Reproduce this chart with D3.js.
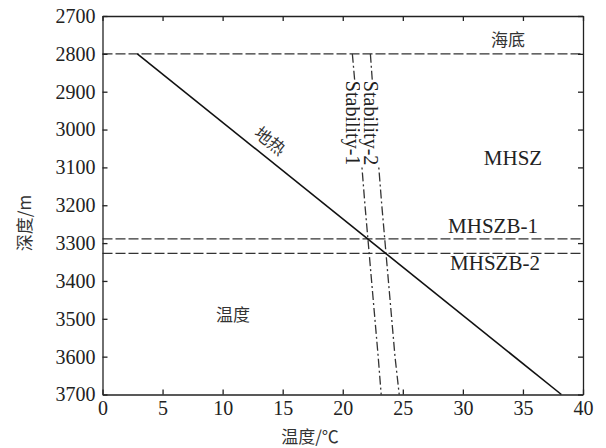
<!DOCTYPE html>
<html>
<head>
<meta charset="utf-8">
<script src="https://cdn.jsdelivr.net/npm/d3@7"></script>
<style>
  html, body { margin: 0; padding: 0; background: #fff; }
  svg { display: block; }
  .tick text { font-family: 'Liberation Serif', 'Times New Roman', serif; }
</style>
</head>
<body>
<svg id="chart" width="606" height="448"></svg>
<script>
// Axis extents and ticks
const tempDomain = [0, 40];
const depthDomain = [2700, 3700];
const tempTicks = [0, 5, 10, 15, 20, 25, 30, 35, 40];
const depthTicks = [2700, 2800, 2900, 3000, 3100, 3200, 3300, 3400, 3500, 3600, 3700];

// Geothermal gradient (temperature °C vs depth m)
const geoTemp = [2.9, 38.2];
const geoDepth = [2800, 3700];

// Hydrate phase-stability curves
const stabDepth = [2800, 3000, 3200, 3400, 3600, 3700];
const stab1Temp = [20.8, 21.35, 21.85, 22.4, 22.95, 23.2];
const stab2Temp = [22.3, 22.75, 23.25, 23.8, 24.35, 24.7];

// Horizontal reference depths: seafloor, stability-zone bases
const refNames = ["海底", "MHSZB-1", "MHSZB-2"];
const refDepths = [2800, 3289, 3327];

const W = 606, H = 448;
const margin = { left: 102.5, right: 23, top: 16, bottom: 53.5 };
const svg = d3.select("#chart");

const x = d3.scaleLinear().domain(tempDomain).range([margin.left, W - margin.right]);
const y = d3.scaleLinear().domain(depthDomain).range([margin.top, H - margin.bottom]);

const serif = "'Liberation Serif', 'Times New Roman', serif";
const cjk = "'Noto Sans CJK SC', sans-serif";
const ink = "#222";

// Horizontal dashed reference lines
svg.append("g").selectAll("line").data(refDepths).join("line")
  .attr("x1", x(tempDomain[0])).attr("x2", x(tempDomain[1]))
  .attr("y1", d => y(d)).attr("y2", d => y(d))
  .attr("stroke", "#333").attr("stroke-width", 1.3)
  .attr("stroke-dasharray", "10,3");

// Stability curves (dash-dot)
const lineGen = d3.line().x(d => x(d[0])).y(d => y(d[1]));
[stab1Temp, stab2Temp].forEach(temps => {
  svg.append("path")
    .datum(temps.map((t, i) => [t, stabDepth[i]]))
    .attr("d", lineGen)
    .attr("fill", "none").attr("stroke", "#333").attr("stroke-width", 1.3)
    .attr("stroke-dasharray", "9,3,2,3");
});

// Geothermal line
svg.append("path")
  .datum(geoTemp.map((t, i) => [t, geoDepth[i]]))
  .attr("d", lineGen)
  .attr("fill", "none").attr("stroke", "#111").attr("stroke-width", 1.6);

// Axes with inward ticks on all four sides
const gx = svg.append("g").attr("transform", `translate(0,${y(depthDomain[1])})`)
  .call(d3.axisBottom(x).tickValues(tempTicks).tickSizeInner(-5).tickSizeOuter(0).tickPadding(6));
const gxTop = svg.append("g").attr("transform", `translate(0,${y(depthDomain[0])})`)
  .call(d3.axisTop(x).tickValues(tempTicks).tickSizeInner(-5).tickSizeOuter(0).tickFormat(""));
const gy = svg.append("g").attr("transform", `translate(${x(tempDomain[0])},0)`)
  .call(d3.axisLeft(y).tickValues(depthTicks).tickSizeInner(-5).tickSizeOuter(0).tickPadding(7).tickFormat(d3.format("d")));
const gyRight = svg.append("g").attr("transform", `translate(${x(tempDomain[1])},0)`)
  .call(d3.axisRight(y).tickValues(depthTicks).tickSizeInner(-5).tickSizeOuter(0).tickFormat(""));

[gx, gxTop, gy, gyRight].forEach(g => {
  g.attr("font-family", serif).attr("font-size", 20);
  g.selectAll("path, line").attr("stroke", ink).attr("stroke-width", 1.3);
  g.selectAll("text").attr("font-family", serif).attr("font-size", 20).attr("fill", ink);
});

// Rotated stability labels sitting over their curves
const stabLabels = ["Stability-1", "Stability-2"];
[stab1Temp, stab2Temp].forEach((temps, i) => {
  const g = svg.append("g")
    .attr("transform", `translate(${x(temps[0]) + 0.8},${y(2800) + 27}) rotate(90)`);
  const rect = g.append("rect").attr("fill", "#fff");
  const t = g.append("text")
    .attr("x", 0).attr("y", 0)
    .attr("dominant-baseline", "central")
    .attr("font-family", serif).attr("font-size", 20).attr("fill", ink)
    .text(stabLabels[i]);
  const b = t.node().getBBox();
  rect.attr("x", b.x - 1).attr("y", b.y + 1).attr("width", b.width + 2).attr("height", b.height - 2);
});

// Zone labels
svg.append("text").attr("x", 508).attr("y", 46).attr("text-anchor", "middle")
  .attr("font-family", cjk).attr("font-size", 17).attr("fill", "#333").text(refNames[0]);
svg.append("text").attr("x", 513).attr("y", 165).attr("text-anchor", "middle")
  .attr("font-family", serif).attr("font-size", 21).attr("fill", ink).text("MHSZ");
svg.append("text").attr("x", 493).attr("y", 233).attr("text-anchor", "middle")
  .attr("font-family", serif).attr("font-size", 21).attr("fill", ink).text(refNames[1]);
svg.append("text").attr("x", 495).attr("y", 270).attr("text-anchor", "middle")
  .attr("font-family", serif).attr("font-size", 21).attr("fill", ink).text(refNames[2]);
svg.append("text").attr("x", 233).attr("y", 321).attr("text-anchor", "middle")
  .attr("font-family", cjk).attr("font-size", 17).attr("fill", "#333").text("温度");

// Geothermal label aligned with the line
const angle = Math.atan2(y(geoDepth[1]) - y(geoDepth[0]), x(geoTemp[1]) - x(geoTemp[0])) * 180 / Math.PI;
svg.append("text")
  .attr("transform", `translate(271,140) rotate(${angle})`)
  .attr("text-anchor", "middle").attr("dominant-baseline", "central")
  .attr("font-family", cjk).attr("font-size", 17).attr("fill", "#333").text("地热");

// Axis titles
svg.append("text").attr("x", 310).attr("y", 443).attr("text-anchor", "middle")
  .attr("font-family", cjk).attr("font-size", 17).attr("fill", "#333").text("温度/℃");
svg.append("text")
  .attr("transform", `translate(23,223) rotate(-90)`)
  .attr("text-anchor", "middle").attr("dominant-baseline", "central")
  .attr("font-family", cjk).attr("font-size", 17).attr("fill", "#333").text("深度/m");
</script>
</body>
</html>
